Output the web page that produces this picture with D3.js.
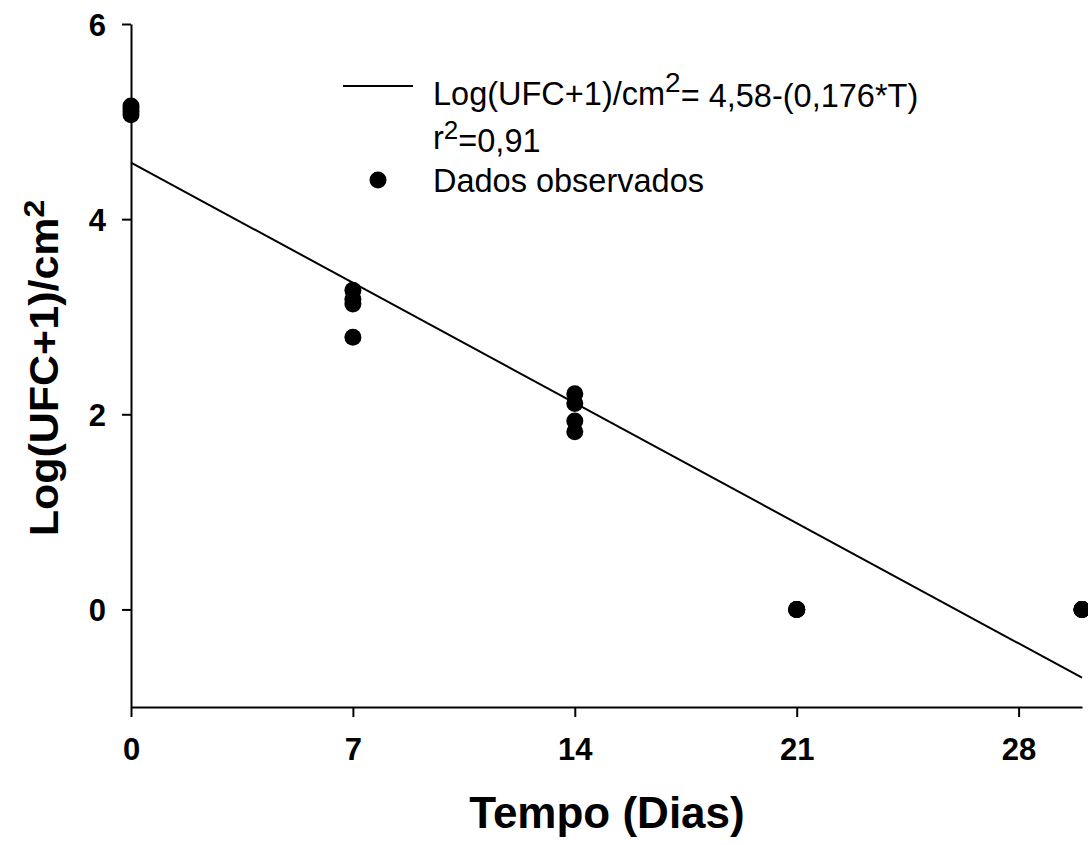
<!DOCTYPE html>
<html>
<head>
<meta charset="utf-8">
<script src="https://cdn.jsdelivr.net/npm/d3@7"></script>
<style>
  html, body { margin: 0; padding: 0; background: #fff; }
  svg text { font-family: "Liberation Sans", Arial, sans-serif; fill: #000; }
</style>
</head>
<body>
<div id="viz"></div>
<script>
// observed data (days, log values)
const obsDays = [0, 0, 0, 0, 7, 7, 7, 7, 14, 14, 14, 14, 21, 21, 21, 21, 30, 30, 30, 30];
const obsValues = [5.16, 5.13, 5.10, 5.07, 3.27, 3.18, 3.13, 2.79, 2.21, 2.11, 1.93, 1.82, 0, 0, 0, 0, 0, 0, 0, 0];

// fitted line end points
const fitDays = [0, 30];
const fitValues = [4.58, -0.70];

const xTicks = [0, 7, 14, 21, 28];
const yTicks = [0, 2, 4, 6];

const width = 1088;
const height = 845;
const margin = { left: 131, right: 6, top: 24, bottom: 138 };

const svg = d3.select("#viz")
  .append("svg")
  .attr("width", width)
  .attr("height", height);

const x = d3.scaleLinear().domain([0, 30]).range([margin.left, width - margin.right]);
const y = d3.scaleLinear().domain([-1, 6]).range([height - margin.bottom, margin.top]);

// axes
const xAxis = svg.append("g")
  .attr("transform", `translate(0,${y(-1)})`)
  .call(d3.axisBottom(x).tickValues(xTicks).tickFormat(d3.format("d"))
    .tickSize(10).tickSizeOuter(0).tickPadding(21));

const yAxis = svg.append("g")
  .attr("transform", `translate(${x(0)},0)`)
  .call(d3.axisLeft(y).tickValues(yTicks).tickFormat(d3.format("d"))
    .tickSize(9).tickSizeOuter(0).tickPadding(16));

[xAxis, yAxis].forEach(g => {
  g.select(".domain").attr("stroke", "#000").attr("stroke-width", 2);
  g.selectAll(".tick line").attr("stroke", "#000").attr("stroke-width", 2);
  g.selectAll(".tick text")
    .attr("fill", "#000")
    .style("font-family", "'Liberation Sans', Arial, sans-serif")
    .style("font-size", "31px")
    .style("font-weight", "bold");
});
yAxis.selectAll(".tick text").attr("dy", "0.36em");

// regression line
const line = d3.line().x(d => x(d[0])).y(d => y(d[1]));
svg.append("path")
  .datum(fitDays.map((d, i) => [d, fitValues[i]]))
  .attr("d", line)
  .attr("fill", "none")
  .attr("stroke", "#000")
  .attr("stroke-width", 2);

// observed points
svg.append("g")
  .selectAll("circle")
  .data(obsDays.map((d, i) => [d, obsValues[i]]))
  .enter().append("circle")
  .attr("cx", d => x(d[0]))
  .attr("cy", d => y(d[1]))
  .attr("r", 8.5)
  .attr("fill", "#000");

// axis titles
svg.append("text")
  .attr("x", 607)
  .attr("y", 828)
  .attr("text-anchor", "middle")
  .style("font-size", "44px")
  .style("font-weight", "bold")
  .text("Tempo (Dias)");

const yTitle = svg.append("text")
  .attr("transform", "translate(58,368) scale(0.95,1) rotate(-90)")
  .attr("text-anchor", "middle")
  .style("font-size", "43px")
  .style("font-weight", "bold");
yTitle.append("tspan").text("Log(UFC+1)/cm");
yTitle.append("tspan").attr("dy", "-0.45em").style("font-size", "32px").text("2");

// legend
const leg = svg.append("g").style("font-size", "32.5px");
leg.append("line")
  .attr("x1", 343).attr("x2", 413)
  .attr("y1", 86).attr("y2", 86)
  .attr("stroke", "#000").attr("stroke-width", 2);
const t1 = leg.append("text").attr("x", 433).attr("y", 105);
t1.append("tspan").text("Log(UFC+1)/cm");
t1.append("tspan").attr("dy", "-0.45em").style("font-size", "28px").text("2");
t1.append("tspan").attr("dy", "0.45em").text("= 4,58-(0,176*T)");
const t2 = leg.append("text").attr("x", 433).attr("y", 149);
t2.append("tspan").text("r");
t2.append("tspan").attr("dy", "-0.4em").style("font-size", "26px").text("2");
t2.append("tspan").attr("dy", "0.4em").text("=0,91");
leg.append("circle").attr("cx", 378).attr("cy", 180).attr("r", 8.5).attr("fill", "#000");
leg.append("text").attr("x", 433).attr("y", 192).text("Dados observados");
</script>
</body>
</html>
